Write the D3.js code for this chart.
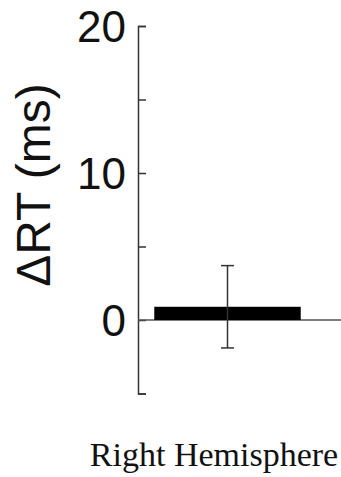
<!DOCTYPE html>
<html>
<head>
<meta charset="utf-8">
<script src="https://cdn.jsdelivr.net/npm/d3@7"></script>
<style>
  body { margin: 0; background: #fff; }
  svg { display: block; }
</style>
</head>
<body>
<div class="res"></div>
<script>
// data
const categories = ['Right Hemisphere'];
const meanRT = [0.9];
const errLow = [-1.9];
const errHigh = [3.7];
const yTicks = [-5, 0, 5, 10, 15, 20];
const yTickLabels = {0: '0', 10: '10', 20: '20'};

const W = 341, H = 477;

const svg = d3.select('div.res')
    .append('svg')
    .attr('width', W)
    .attr('height', H);

/**
 * SCALES
 */
const yScale = d3.scaleLinear()
    .domain([-5, 20])
    .range([393.5, 26]);

const xScale = d3.scaleBand()
    .domain(categories)
    .range([138, 317])
    .padding(0.1);

const axisX = 138;

/**
 * Y AXIS (ticks point inward)
 */
const yAxis = d3.axisRight(yScale)
    .tickValues(yTicks)
    .tickSize(8)
    .tickFormat('');

const gy = svg.append('g')
    .attr('transform', `translate(${axisX},0)`)
    .call(yAxis);
gy.select('.domain').attr('stroke', '#333').attr('stroke-width', 1.5);
gy.selectAll('.tick line').attr('stroke', '#333').attr('stroke-width', 1.5);

// tick labels on the outside
svg.append('g')
    .selectAll('text')
    .data(yTicks.filter(d => yTickLabels[d] !== undefined))
    .enter().append('text')
    .attr('x', axisX - 12)
    .attr('y', d => yScale(d))
    .attr('dy', '0.36em')
    .attr('text-anchor', 'end')
    .style('font-family', 'Liberation Sans, Arial, sans-serif')
    .style('font-size', '44px')
    .attr('fill', '#111')
    .text(d => yTickLabels[d]);

/**
 * ZERO LINE
 */
svg.append('line')
    .attr('x1', axisX)
    .attr('x2', W)
    .attr('y1', yScale(0))
    .attr('y2', yScale(0))
    .attr('stroke', '#555')
    .attr('stroke-width', 1.5);

/**
 * BARS
 */
svg.selectAll('rect.bar')
    .data(categories)
    .enter().append('rect')
    .attr('class', 'bar')
    .attr('x', d => xScale(d))
    .attr('width', xScale.bandwidth())
    .attr('y', (d, i) => yScale(Math.max(0, meanRT[i])))
    .attr('height', (d, i) => Math.abs(yScale(meanRT[i]) - yScale(0)))
    .attr('fill', '#000');

/**
 * ERROR BARS
 */
const capW = 13;
const err = svg.selectAll('g.err')
    .data(categories)
    .enter().append('g')
    .attr('class', 'err')
    .attr('stroke', '#333')
    .attr('stroke-width', 1.5);

err.append('line')
    .attr('x1', d => xScale(d) + xScale.bandwidth() / 2)
    .attr('x2', d => xScale(d) + xScale.bandwidth() / 2)
    .attr('y1', (d, i) => yScale(errLow[i]))
    .attr('y2', (d, i) => yScale(errHigh[i]));

[errLow, errHigh].forEach(arr => {
    err.append('line')
        .attr('x1', d => xScale(d) + xScale.bandwidth() / 2 - capW / 2)
        .attr('x2', d => xScale(d) + xScale.bandwidth() / 2 + capW / 2)
        .attr('y1', (d, i) => yScale(arr[i]))
        .attr('y2', (d, i) => yScale(arr[i]));
});

/**
 * LABELS
 */
svg.append('text')
    .attr('transform', 'translate(50,185) rotate(-90)')
    .attr('text-anchor', 'middle')
    .style('font-family', 'Liberation Sans, Arial, sans-serif')
    .style('font-size', '48px')
    .attr('fill', '#111')
    .text('\u0394RT (ms)');

svg.append('text')
    .attr('x', 214)
    .attr('y', 466)
    .attr('text-anchor', 'middle')
    .style('font-family', 'Liberation Serif, Times New Roman, serif')
    .style('font-size', '34px')
    .attr('fill', '#111')
    .text(categories[0]);
</script>
</body>
</html>
